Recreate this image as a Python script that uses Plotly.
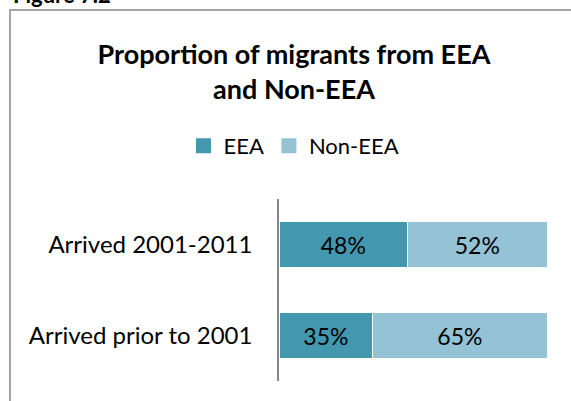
import plotly.graph_objects as go

categories = ["Arrived 2001-2011", "Arrived prior to 2001"]
eea = [0.48, 0.35]
non_eea = [0.52, 0.65]
series_names = ["EEA", "Non-EEA"]
colors = ["#4398B0", "#93C3D5"]
title_text = "Proportion of migrants from EEA<br>and Non-EEA"

W, H = 571, 401
L, R, T, B = 279, 24, 199, 20
pw, ph = W - L - R, H - T - B

def px_x(px):
    return (px - L) / pw

def px_y(py):
    return (H - B - py) / ph

FONT = "Lato, Carlito, sans-serif"

fig = go.Figure()
for name, vals, col in zip(series_names, [eea, non_eea], colors):
    fig.add_trace(go.Bar(
        y=categories, x=vals, name=name, orientation="h",
        marker=dict(color=col, line=dict(color="white", width=1)),
        texttemplate="%{x:.0%}", textposition="inside",
        insidetextanchor="middle", textangle=0,
        textfont=dict(size=23, color="black", family=FONT),
        constraintext="none", showlegend=False,
    ))
# legend entries with larger square symbols
for name, col in zip(series_names, colors):
    fig.add_trace(go.Scatter(
        x=[None], y=[None], mode="markers", name=name,
        marker=dict(symbol="square", size=15, color=col),
        showlegend=True,
    ))

fig.update_layout(
    width=W, height=H,
    margin=dict(l=L, r=R, t=T, b=B),
    barmode="stack", bargap=0.495,
    paper_bgcolor="white", plot_bgcolor="white",
    font=dict(family=FONT, color="black"),
    title=dict(
        text="<b>" + title_text + "</b>",
        x=294 / W, xanchor="center", xref="container",
        y=1 - 64 / H, yanchor="middle", yref="container",
        font=dict(size=27, family=FONT, color="black"),
    ),
    legend=dict(
        orientation="h", xref="container", yref="container",
        x=294 / W, xanchor="center", y=1 - 146 / H, yanchor="middle",
        font=dict(size=22, family=FONT, color="black"),
        traceorder="normal", itemwidth=30,
    ),
    xaxis=dict(range=[0, 1], visible=False, fixedrange=True),
    yaxis=dict(
        categoryorder="array", categoryarray=categories[::-1],
        showline=True, linecolor="#868686", linewidth=1.5,
        ticks="", ticklabelstandoff=20,
        tickfont=dict(size=24, family=FONT, color="black"),
        showgrid=False, zeroline=False,
    ),
    showlegend=True,
)

# chart area border (top + left edges visible)
fig.add_shape(type="rect", xref="paper", yref="paper",
              x0=px_x(10), x1=px_x(620), y0=px_y(450), y1=px_y(10),
              line=dict(color="#868686", width=1.5), layer="below")

fig.add_annotation(text="<b>Figure 7.2</b>", xref="paper", yref="paper",
                   x=px_x(11), xanchor="left", y=px_y(10), yanchor="bottom",
                   showarrow=False, font=dict(size=22, family=FONT, color="black"))

fig.write_html("out.html")
